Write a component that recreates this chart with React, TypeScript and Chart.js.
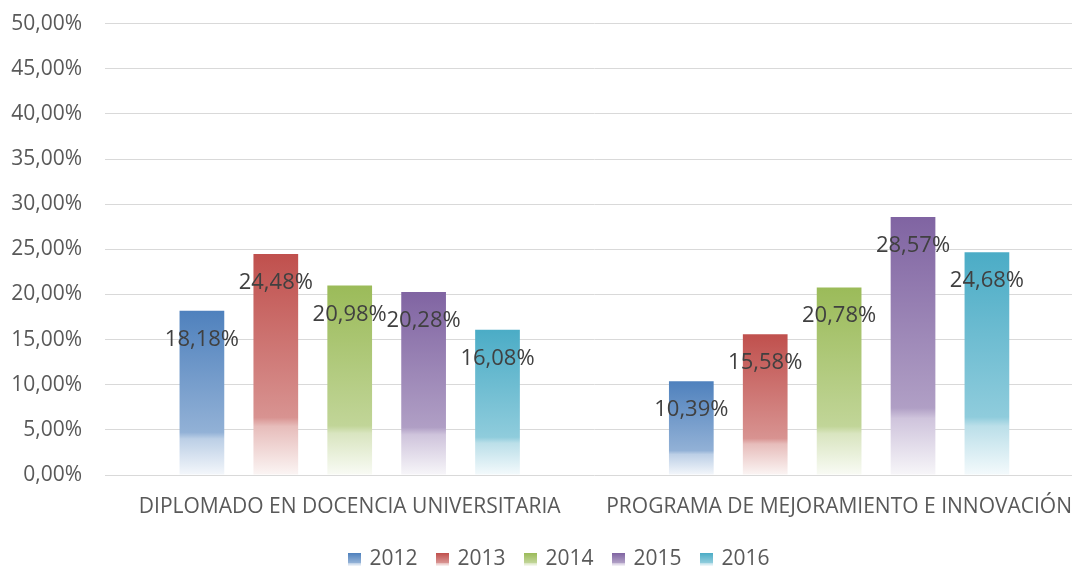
import React, { useEffect, useRef } from 'react';
import { Chart, registerables } from 'chart.js';

Chart.register(...registerables);

const categories = ['DIPLOMADO EN DOCENCIA UNIVERSITARIA', 'PROGRAMA DE MEJORAMIENTO E INNOVACIÓN'];
const years = ['2012', '2013', '2014', '2015', '2016'];
const values2012 = [18.18, 10.39];
const values2013 = [24.48, 15.58];
const values2014 = [20.98, 20.78];
const values2015 = [20.28, 28.57];
const values2016 = [16.08, 24.68];
const seriesValues = [values2012, values2013, values2014, values2015, values2016];
const colors = ['#4F81BD', '#C0504D', '#9BBB59', '#8064A2', '#4BACC6'];
const yMin = 0;
const yMax = 50;
const yStep = 5;

const FONT = "'Open Sans', 'Liberation Sans', sans-serif";

function fmt(v: number): string {
  return v.toFixed(2).replace('.', ',') + '%';
}

function mix(hex: string, t: number): string {
  const r = parseInt(hex.slice(1, 3), 16);
  const g = parseInt(hex.slice(3, 5), 16);
  const b = parseInt(hex.slice(5, 7), 16);
  const m = (c: number) => Math.round(c + (255 - c) * t);
  return `rgb(${m(r)},${m(g)},${m(b)})`;
}

function addStops(g: CanvasGradient, color: string) {
  g.addColorStop(0, color);
  g.addColorStop(0.74, mix(color, 0.38));
  g.addColorStop(0.78, mix(color, 0.62));
  g.addColorStop(1, mix(color, 0.94));
}

function legendIcon(color: string): HTMLCanvasElement {
  const c = document.createElement('canvas');
  c.width = 13;
  c.height = 13;
  const x = c.getContext('2d')!;
  const g = x.createLinearGradient(0, 0, 0, 13);
  addStops(g, color);
  x.fillStyle = g;
  x.fillRect(0, 0, 13, 13);
  return c;
}

const labelPlugin = {
  id: 'barValueLabels',
  afterDatasetsDraw(chart: any) {
    const ctx = chart.ctx;
    ctx.save();
    ctx.font = `22px ${FONT}`;
    ctx.fillStyle = '#404040';
    ctx.textAlign = 'center';
    ctx.textBaseline = 'alphabetic';
    chart.data.datasets.forEach((ds: any, i: number) => {
      const meta = chart.getDatasetMeta(i);
      meta.data.forEach((el: any, j: number) => {
        ctx.fillText(fmt(ds.data[j]), el.x, el.y + 35);
      });
    });
    ctx.restore();
  },
};

// shifts the bottom legend to the right so it sits where the original one is
const legendShiftPlugin = {
  id: 'legendShift',
  afterLayout(chart: any) {
    const lg = chart.legend;
    if (lg) {
      lg.left += 13;
      lg.right += 13;
    }
  },
};

export default function App() {
  const ref = useRef<HTMLCanvasElement | null>(null);

  useEffect(() => {
    if (!ref.current) return;
    const chart = new Chart(ref.current, {
      type: 'bar',
      data: {
        labels: categories,
        datasets: years.map((y, i) => ({
          label: y,
          data: seriesValues[i],
          backgroundColor: (ctx: any) => {
            const color = colors[i];
            if (ctx.type !== 'data') return color;
            const chart = ctx.chart;
            if (!chart.chartArea) return color;
            const ys = chart.scales.y;
            const top = ys.getPixelForValue(ctx.raw);
            const bottom = ys.getPixelForValue(0);
            const g = chart.ctx.createLinearGradient(0, top, 0, bottom);
            addStops(g, color);
            return g;
          },
          borderWidth: 0,
          categoryPercentage: 0.755,
          barPercentage: 0.605,
        })),
      },
      options: {
        responsive: false,
        animation: false,
        layout: { padding: { left: 5, right: 4, top: 0, bottom: 0 } },
        plugins: {
          tooltip: { enabled: false },
          legend: {
            position: 'bottom',
            labels: {
              usePointStyle: true,
              pointStyleWidth: 9.5,
              font: { family: FONT, size: 21 },
              color: '#595959',
              padding: 20,
              generateLabels: (chart: any) =>
                chart.data.datasets.map((ds: any, i: number) => ({
                  text: ds.label,
                  pointStyle: legendIcon(colors[i]),
                  fillStyle: colors[i],
                  strokeStyle: colors[i],
                  lineWidth: 0,
                  hidden: false,
                  datasetIndex: i,
                  fontColor: '#595959',
                })),
            },
          },
        },
        scales: {
          x: {
            afterFit: (scale: any) => {
              scale.height = 54;
            },
            grid: { display: false, drawTicks: false },
            border: { display: false },
            ticks: {
              font: { family: FONT, size: 21 },
              color: '#595959',
              padding: 19,
              maxRotation: 0,
              autoSkip: false,
            },
          },
          y: {
            min: yMin,
            max: yMax,
            afterFit: (scale: any) => {
              scale.width = 100;
            },
            grid: { color: '#D9D9D9', lineWidth: 1, drawTicks: false },
            border: { display: false },
            ticks: {
              stepSize: yStep,
              padding: 23,
              font: { family: FONT, size: 21 },
              color: '#595959',
              callback: (v: any) => fmt(Number(v)),
            },
          },
        },
      },
      plugins: [labelPlugin, legendShiftPlugin],
    });
    return () => chart.destroy();
  }, []);

  return (
    <div
      style={{
        position: 'fixed',
        left: 0,
        top: 0,
        width: 1072,
        height: 568,
        overflow: 'hidden',
        background: '#fff',
      }}
    >
      <canvas
        ref={ref}
        width={1092}
        height={592}
        style={{ display: 'block', position: 'absolute', left: 0, top: -12 }}
      />
    </div>
  );
}
